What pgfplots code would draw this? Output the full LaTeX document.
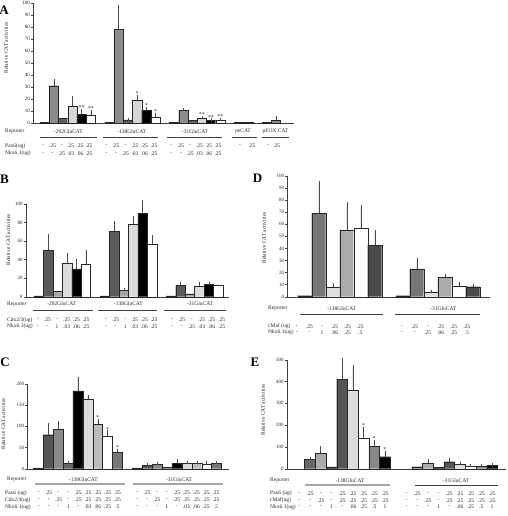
\documentclass[border=0pt]{standalone}
\usepackage{fontspec}
\setmainfont{Liberation Serif}
\usepackage{pgfplots}
\pgfplotsset{compat=1.18}

\definecolor{aA1}{HTML}{404040}\definecolor{aA2}{HTML}{8C8C8C}\definecolor{aA3}{HTML}{5E5E5E}
\definecolor{aA4}{HTML}{D6D6D6}\definecolor{aA5}{HTML}{000000}\definecolor{aA6}{HTML}{FFFFFF}
\definecolor{bB1}{HTML}{333333}\definecolor{bB2}{HTML}{5A5A5A}\definecolor{bB3}{HTML}{A6A6A6}
\definecolor{bB4}{HTML}{DCDCDC}\definecolor{bB5}{HTML}{000000}\definecolor{bB6}{HTML}{FFFFFF}
\definecolor{dD1}{HTML}{262626}\definecolor{dD2}{HTML}{777777}\definecolor{dD3}{HTML}{DEDEDE}
\definecolor{dD4}{HTML}{ABABAB}\definecolor{dD5}{HTML}{FFFFFF}\definecolor{dD6}{HTML}{4A4A4A}
\definecolor{cC0}{HTML}{999999}\definecolor{cC1}{HTML}{555555}\definecolor{cC2}{HTML}{8A8A8A}
\definecolor{cC3}{HTML}{666666}\definecolor{cC4}{HTML}{000000}\definecolor{cC5}{HTML}{DCDCDC}
\definecolor{cC6}{HTML}{BDBDBD}\definecolor{cC7}{HTML}{FFFFFF}\definecolor{cC8}{HTML}{777777}
\definecolor{eE1}{HTML}{666666}\definecolor{eE2}{HTML}{AAAAAA}\definecolor{eE3}{HTML}{000000}
\definecolor{eE4}{HTML}{555555}\definecolor{eE5}{HTML}{DDDDDD}\definecolor{eE6}{HTML}{FFFFFF}
\definecolor{eE7}{HTML}{888888}\definecolor{eE8}{HTML}{000000}

\pgfplotsset{
  panel/.style={scale only axis, anchor=south west, clip=false,
    axis lines*=left, xtick=\empty, tick align=outside, major tick length=2pt,
    axis line style={black!75, line width=0.4pt},
    ytick style={black!75, line width=0.4pt},
    yticklabel style={font=\fontsize{5}{6}\selectfont, inner sep=1pt, text=black!85},
    /pgf/number format/assume math mode=true,
    ymin=0, ybar, bar width=1},
  cb/.style={bar shift=0pt, fill=#1, draw=black!85, line width=0.35pt,
    /pgfplots/error bars/y dir=plus, /pgfplots/error bars/y explicit,
    /pgfplots/error bars/error bar style={line width=0.35pt, black!70},
    /pgfplots/error bars/error mark options={mark size=1.6pt, line width=0.35pt, black!70}},
}
\tikzset{star/.style={font=\fontsize{6}{6}\selectfont, anchor=south, inner sep=0.6pt, text=black!85}}
\newcommand\rowvals[4]{\foreach \v [count=\i from 0] in {#4} {\node[lab] at ({#1+#2*\i},-#3) {\v};}}

\begin{document}
\begin{tikzpicture}
% ---------- Panel A ----------
\begin{axis}[panel, at={(33pt,-123.3pt)}, width=261pt, height=120pt,
  xmin=-1.25, xmax=26.96, ymax=100, ytick={0,10,...,100}]
\addplot[cb=aA1] coordinates {(0,0.8) (7,0.8) (14,0.8) (21,0.8) (24,0.6)};
\addplot[cb=aA2] coordinates {(1,31.3) +- (0,4.2) (8,78.3) +- (0,18.7) (15,10.8) +- (0,0.6) (22,0.8) (25,2.5) +- (0,2.5)};
\addplot[cb=aA3] coordinates {(2,4) (9,2.8) +- (0,0.5) (16,2.2)};
\addplot[cb=aA4] coordinates {(3,14.6) +- (0,6.4) (10,19.2) +- (0,3) (17,3.9) +- (0,0.8)};
\addplot[cb=aA5] coordinates {(4,7.4) +- (0,3.1) (11,10.8) +- (0,1.7) (18,2.3) +- (0,0.4)};
\addplot[cb=aA6] coordinates {(5,6.9) +- (0,2.8) (12,5) +- (0,2.5) (19,2.2) +- (0,0.8)};
\node[star] at (axis cs:4,10.5) {**};
\node[star] at (axis cs:5,9.7) {**};
\node[star] at (axis cs:10,22.2) {*};
\node[star] at (axis cs:11,12.5) {*};
\node[star] at (axis cs:12,7.5) {*};
\node[star] at (axis cs:17,4.7) {**};
\node[star] at (axis cs:18,2.7) {**};
\node[star] at (axis cs:19,3) {**};
\end{axis}
% ---------- Panel B ----------
\begin{axis}[panel, at={(25.7pt,-296.7pt)}, width=203.3pt, height=92.7pt,
  xmin=-1.376, xmax=20.14, ymax=100, ytick={0,20,...,100}]
\addplot[cb=bB1] coordinates {(0,1) (7,1) (14,1)};
\addplot[cb=bB2] coordinates {(1,50) +- (0,16) (8,70.5) +- (0,9.5) (15,12.2) +- (0,2.2)};
\addplot[cb=bB3] coordinates {(2,5.8) (9,6.8) +- (0,1.2) (16,3.2)};
\addplot[cb=bB4] coordinates {(3,36) +- (0,9.7) (10,78) +- (0,7.6) (17,11.5) +- (0,2.5)};
\addplot[cb=bB5] coordinates {(4,30) +- (0,9) (11,90) +- (0,12.5) (18,13.3) +- (0,1.1)};
\addplot[cb=bB6] coordinates {(5,35) +- (0,14) (12,56.8) +- (0,8.2) (19,12.2)};
\end{axis}
% ---------- Panel D ----------
\begin{axis}[panel, at={(287.3pt,-296.7pt)}, width=202.7pt, height=120.7pt,
  xmin=-1.243, xmax=13.236, ymax=100, ytick={0,10,...,100}]
\addplot[cb=dD1] coordinates {(0,0.8) (7,0.8)};
\addplot[cb=dD2] coordinates {(1,69) +- (0,25.5) (8,23) +- (0,8)};
\addplot[cb=dD3] coordinates {(2,7.8) +- (0,2.5) (9,4.1) +- (0,0.5)};
\addplot[cb=dD4] coordinates {(3,55.3) +- (0,21.5) (10,16) +- (0,1.7)};
\addplot[cb=dD5] coordinates {(4,56.7) +- (0,17.9) (11,9.1) +- (0,1.9)};
\addplot[cb=dD6] coordinates {(5,42.8) +- (0,11.4) (12,8.3) +- (0,1.1)};
\end{axis}
% ---------- Panel C ----------
\begin{axis}[panel, at={(27.3pt,-468.7pt)}, width=202pt, height=84.7pt,
  xmin=-1.11, xmax=19.29, ymax=200, ytick={0,50,...,200}]
\addplot[cb=cC0] coordinates {(0,2) (10,2)};
\addplot[cb=cC1] coordinates {(1,80.3) +- (0,23.7) (11,8) +- (0,2.4)};
\addplot[cb=cC2] coordinates {(2,93) +- (0,15.6) (12,10.4) +- (0,2.3)};
\addplot[cb=cC3] coordinates {(3,13.4) +- (0,1.5) (13,4)};
\addplot[cb=cC4] coordinates {(4,183.5) +- (0,29.5) (14,13.4) +- (0,4.6)};
\addplot[cb=cC5] coordinates {(5,164.6) +- (0,6.4) (15,12.7) +- (0,2.3)};
\addplot[cb=cC6] coordinates {(6,106) +- (0,8) (16,12) +- (0,2)};
\addplot[cb=cC7] coordinates {(7,77) +- (0,9.7) (17,11.3) +- (0,2.1)};
\addplot[cb=cC8] coordinates {(8,39.4) +- (0,4) (18,12) +- (0,2)};
\node[star] at (axis cs:6,114) {*};
\node[star] at (axis cs:7,86.7) {*};
\node[star] at (axis cs:8,43.4) {*};
\end{axis}
% ---------- Panel E ----------
\begin{axis}[panel, at={(286.7pt,-468.7pt)}, width=219.3pt, height=109pt,
  xmin=-1.17, xmax=19.3, ymax=500, ytick={0,100,...,500}]
\addplot[cb=eE1] coordinates {(1,43) +- (0,5) (11,9)};
\addplot[cb=eE2] coordinates {(2,70) +- (0,28) (12,25) +- (0,10)};
\addplot[cb=eE3] coordinates {(3,8) (13,5)};
\addplot[cb=eE4] coordinates {(4,411) +- (0,89) (14,32) +- (0,11)};
\addplot[cb=eE5] coordinates {(5,361) +- (0,107) (15,21) +- (0,4)};
\addplot[cb=eE6] coordinates {(6,139) +- (0,46) (16,12) +- (0,3)};
\addplot[cb=eE7] coordinates {(7,104) +- (0,22) (17,12) +- (0,3)};
\addplot[cb=eE8] coordinates {(8,55) +- (0,20) (18,14) +- (0,3)};
\node[star] at (axis cs:6,185) {*};
\node[star] at (axis cs:7,126) {*};
\node[star] at (axis cs:8,75) {*};
\end{axis}

\begin{scope}[x=1pt,y=1pt, lab/.style={font=\fontsize{5.5}{6}\selectfont, inner sep=0pt, text=black!85},
  big/.style={font=\bfseries\fontsize{13}{13}\selectfont, inner sep=0pt},
  yl/.style={font=\fontsize{5.5}{6}\selectfont, rotate=90, inner sep=0pt, text=black!85},
  gl/.style={black!75, line width=0.5pt}, gg/.style={black!35, line width=1.1pt}]
\path[use as bounding box] (0,0) rectangle (507,-516);
% Panel A text
\node[big] at (4,-10) {A};
\node[yl] at (6,-48) {Relative CAT activities};
\node[lab, anchor=west] at (5,-131.7) {Reporter};
\node[lab] at (68.3,-131.7) {-292GluCAT};
\node[lab] at (131.7,-131.7) {-138GluCAT};
\node[lab] at (195,-131.7) {-31GluCAT};
\node[lab] at (243,-131.7) {peCAT};
\node[lab] at (275.5,-131.7) {pFOX CAT};
\draw[gl] (40,-137.3) -- (96.7,-137.3);
\draw[gl] (103,-137.3) -- (158,-137.3);
\draw[gl] (166.7,-137.3) -- (221.7,-137.3);
\draw[gl] (231.7,-137.3) -- (256.7,-137.3);
\draw[gl] (262,-137.3) -- (289,-137.3);
\node[lab, anchor=west] at (5,-145.7) {Pax6(ug)};
\node[lab, anchor=west] at (5,-153.3) {Nkx6.1(ug)};
\rowvals{43.5}{9.1}{145.7}{-,.25,-,.25,.25,.25}
\rowvals{106.5}{9.5}{145.7}{-,.25,-,.25,.25,.25}
\rowvals{171.5}{9.3}{145.7}{-,.25,-,.25,.25,.25}
\rowvals{240}{12}{145.7}{-,.25}
\rowvals{268.3}{8.4}{145.7}{-,.25}
\rowvals{43.5}{9.1}{153.3}{-,-,.25,.03,.06,.25}
\rowvals{106.5}{9.5}{153.3}{-,-,.25,.03,.06,.25}
\rowvals{171.5}{9.3}{153.3}{-,-,.25,.03,.06,.25}
% Panel B text
\node[big] at (4.5,-179.5) {B};
\node[yl] at (8.3,-240) {Relative CAT activities};
\node[lab, anchor=west] at (7,-304) {Reporter};
\node[lab] at (61.7,-304) {-292GluCAT};
\node[lab] at (128.3,-304) {-138GluCAT};
\node[lab] at (200,-304) {-31GluCAT};
\draw[gl] (33,-310) -- (93,-310);
\draw[gl] (98,-310) -- (157,-310);
\draw[gl] (164,-310) -- (226,-310);
\node[lab, anchor=west] at (7,-320) {Cdx2/3(ug)};
\node[lab, anchor=west] at (7,-326.5) {Nkx6.1(ug)};
\rowvals{37.7}{9.66}{320}{-,.25,-,.25,.25,.25}
\rowvals{106}{9.6}{320}{-,.25,-,.25,.25,.25}
\rowvals{171.7}{10}{320}{-,.25,-,.25,.25,.25}
\rowvals{37.7}{9.66}{326.5}{-,-,1,.03,.06,.25}
\rowvals{106}{9.6}{326.5}{-,-,1,.03,.06,.25}
\rowvals{171.7}{10}{326.5}{-,-,.25,.03,.06,.25}
% Panel D text
\node[big] at (257.5,-178.5) {D};
\node[yl] at (264,-238) {Relative CAT activities};
\node[lab, anchor=west] at (268,-308.3) {Reporter};
\node[lab] at (341.7,-308.3) {-138GluCAT};
\node[lab] at (443.3,-308.3) {-31GluCAT};
\draw[gl] (300,-314) -- (383,-314);
\draw[gl] (395,-314) -- (480,-314);
\node[lab, anchor=west] at (268,-326.5) {cMaf (ug)};
\node[lab, anchor=west] at (268,-332.5) {Nkx6.1(ug)};
\rowvals{296.7}{12.7}{326.5}{-,.25,-,.25,.25,.25}
\rowvals{401.7}{13}{326.5}{-,.25,-,.25,.25,.25}
\rowvals{296.7}{12.7}{332.5}{-,-,1,.06,.25,.5}
\rowvals{401.7}{13}{332.5}{-,-,.25,.06,.25,.5}
% Panel C text
\node[big] at (5,-362) {C};
\node[yl] at (3.3,-424) {Relative CAT activities};
\node[lab, anchor=west] at (7,-479.3) {Reporter};
\node[lab] at (83.3,-479.3) {-138GluCAT};
\node[lab] at (179,-479.3) {-31GluCAT};
\draw[gg] (35,-484) -- (125,-484);
\draw[gg] (133,-484) -- (222.7,-484);
\node[lab, anchor=west] at (5,-493) {Pax6 (ug)};
\node[lab, anchor=west] at (5,-500) {Cdx2/3(ug)};
\node[lab, anchor=west] at (5,-507) {Nkx6.1(ug)};
\rowvals{39}{9.8}{493}{-,.25,-,-,.25,.25,.25,.25,.25}
\rowvals{137.3}{9.84}{493}{-,.25,-,-,.25,.25,.25,.25,.25}
\rowvals{39}{9.8}{500}{-,-,.25,-,.25,.25,.25,.25,.25}
\rowvals{137.3}{9.84}{500}{-,-,.25,-,.25,.25,.25,.25,.25}
\rowvals{39}{9.8}{507}{-,-,-,1,-,.03,.06,.25,.5}
\rowvals{137.3}{9.84}{507}{-,-,-,1,-,.03,.06,.25,.5}
% Panel E text
\node[big] at (255,-362) {E};
\node[yl] at (263,-410) {Relative CAT activities};
\node[lab, anchor=west] at (270,-480.5) {Reporter};
\node[lab] at (350,-480.5) {-138GluCAT};
\node[lab] at (456,-480.5) {-31GluCAT};
\draw[gg] (305,-485) -- (390,-485);
\draw[gl] (415,-485) -- (498,-485);
\node[lab, anchor=west] at (270,-493.5) {Pax6 (ug)};
\node[lab, anchor=west] at (270,-500.3) {cMaf(ug)};
\node[lab, anchor=west] at (270,-507) {Nkx6.1(ug)};
\rowvals{299.5}{10.7}{493.5}{-,.25,-,-,.25,.25,.25,.25,.25}
\rowvals{406.5}{10.7}{493.5}{-,.25,-,-,.25,.25,.25,.25,.25}
\rowvals{299.5}{10.7}{500.3}{-,-,.25,-,.25,.25,.25,.25,.25}
\rowvals{406.5}{10.7}{500.3}{-,-,.25,-,.25,.25,.25,.25,.25}
\rowvals{299.5}{10.7}{507}{-,-,-,1,-,.06,.25,.5,1}
\rowvals{406.5}{10.7}{507}{-,-,-,1,-,.06,.25,.5,1}
\end{scope}
\end{tikzpicture}
\end{document}
